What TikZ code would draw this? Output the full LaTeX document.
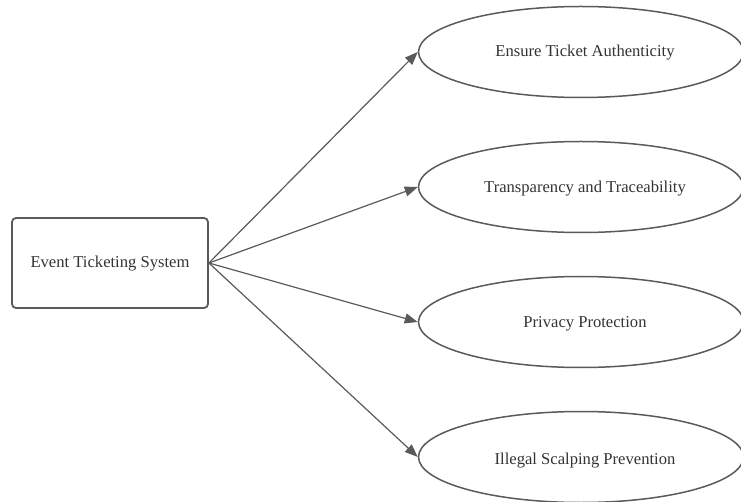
\documentclass[tikz,border=0pt]{standalone}
\usepackage{fontspec}
\setmainfont{Liberation Serif}
\usetikzlibrary{arrows.meta,shapes.geometric}
\definecolor{edgegray}{HTML}{5A5A5A}
\definecolor{textgray}{HTML}{333333}
\tikzset{
  sysbox/.style={draw=edgegray, line width=1.8pt, rounded corners=4pt,
    minimum width=196pt, minimum height=90pt, inner sep=0pt,
    text=textgray, font=\fontsize{16.6}{19}\selectfont},
  goal/.style={draw=edgegray, line width=1.5pt, ellipse,
    minimum width=325pt, minimum height=91pt, inner sep=0pt},
  goaltext/.style={text=textgray, font=\fontsize{16.6}{19}\selectfont},
  link/.style={draw=edgegray, line width=1.2pt,
    -{Triangle[length=13pt,width=10pt]}}
}
\begin{document}
\begin{tikzpicture}[x=1pt,y=-1pt]
  \useasboundingbox (0,0) rectangle (741,502);
  \node[sysbox] (sys) at (110,263) {};
  \node[goaltext] (st) at (110,264) {Event Ticketing System};
  \node[goal] (g1) at (581,52) {};
  \node[goal] (g2) at (581,187) {};
  \node[goal] (g3) at (581,322) {};
  \node[goal] (g4) at (581,457) {};
  \node[goaltext] (t1) at (585,53) {Ensure Ticket Authenticity};
  \node[goaltext] (t2) at (585,189) {Transparency and Traceability};
  \node[goaltext] (t3) at (585,324) {Privacy Protection};
  \node[goaltext] (t4) at (585,461) {Illegal Scalping Prevention};
  \foreach \g in {g1,g2,g3,g4}
    \draw[link] (sys.east) -- (\g.west);
\end{tikzpicture}
\end{document}
